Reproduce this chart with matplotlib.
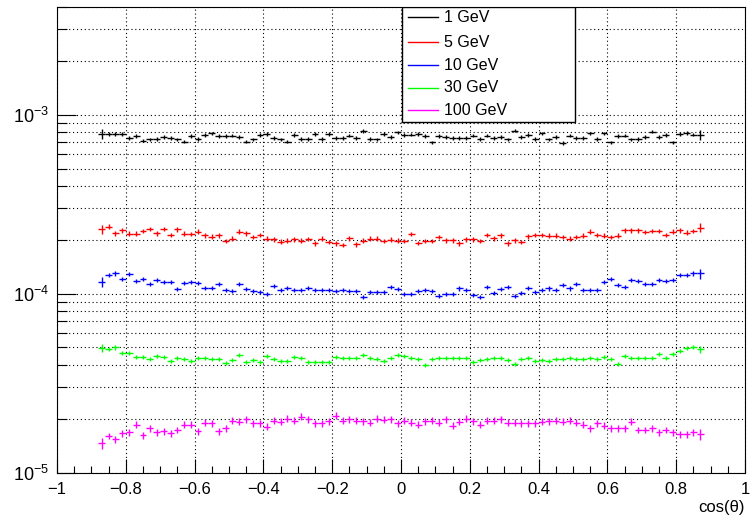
import numpy as np
import matplotlib
matplotlib.use('Agg')
import matplotlib.pyplot as plt
from matplotlib.ticker import (MultipleLocator, LogLocator, NullFormatter,
                               LogFormatterMathtext, FuncFormatter)
from matplotlib.lines import Line2D
from matplotlib.patches import Rectangle

plt.rcParams['font.family'] = 'Liberation Sans'
plt.rcParams['mathtext.fontset'] = 'custom'
plt.rcParams['mathtext.rm'] = 'Liberation Sans'
plt.rcParams['mathtext.it'] = 'Liberation Sans:italic'

# cos(theta) binning: 88 bins of 0.02
bin_edges = np.linspace(-0.88, 0.88, 89)

gev1 = np.array([
    7.82, 7.82, 7.82, 7.82, 7.43, 7.59, 7.17, 7.27, 7.33, 7.49,
    7.40, 7.27, 7.07, 7.59, 7.33, 7.72, 7.88, 7.59, 7.59, 7.65,
    7.49, 7.07, 7.27, 7.72, 7.82, 7.43, 7.27, 7.07, 7.72, 7.33,
    7.33, 7.82, 7.33, 7.82, 7.43, 7.43, 7.65, 7.43, 8.10, 7.33,
    7.27, 7.82, 7.49, 7.98, 7.72, 7.75, 7.82, 7.59, 7.01, 7.59,
    7.49, 7.43, 7.43, 7.43, 7.65, 7.33, 7.65, 7.43, 7.49, 7.27,
    8.16, 7.49, 7.72, 7.33, 7.88, 7.27, 7.49, 6.95, 7.65, 7.43,
    7.43, 7.88, 7.33, 7.88, 7.01, 7.59, 7.65, 7.27, 7.33, 7.49,
    8.05, 7.49, 7.72, 7.01, 7.82, 7.92, 7.75, 7.75]) * 1e-4

gev5 = np.array([
    2.29, 2.37, 2.17, 2.26, 2.16, 2.16, 2.24, 2.30, 2.17, 2.30,
    2.13, 2.29, 2.16, 2.15, 2.22, 2.12, 2.08, 2.12, 1.97, 2.03,
    2.22, 2.17, 2.07, 2.13, 2.03, 2.01, 1.95, 1.98, 2.01, 1.98,
    2.02, 1.91, 2.03, 1.94, 1.91, 1.87, 2.04, 1.89, 1.98, 2.03,
    2.03, 1.97, 2.00, 1.98, 1.97, 2.15, 1.92, 1.97, 1.97, 2.07,
    1.99, 1.99, 1.91, 2.01, 2.01, 1.97, 2.13, 2.04, 2.12, 1.91,
    1.99, 1.94, 2.09, 2.13, 2.13, 2.11, 2.11, 2.07, 2.03, 2.07,
    2.11, 2.22, 2.13, 2.11, 2.07, 2.11, 2.26, 2.26, 2.26, 2.21,
    2.24, 2.24, 2.13, 2.22, 2.26, 2.19, 2.24, 2.34]) * 1e-4

gev10 = np.array([
    1.158, 1.267, 1.296, 1.209, 1.290, 1.173, 1.214, 1.134, 1.190, 1.158,
    1.158, 1.063, 1.148, 1.158, 1.148, 1.076, 1.076, 1.134, 1.053, 1.030,
    1.134, 1.063, 1.039, 1.022, 1.000, 1.109, 1.053, 1.076, 1.053, 1.053,
    1.076, 1.043, 1.053, 1.053, 1.039, 1.053, 1.039, 1.039, 0.960, 1.022,
    1.022, 1.022, 1.089, 1.063, 1.000, 1.000, 1.039, 1.053, 1.030, 0.975,
    1.000, 1.000, 1.068, 1.043, 0.987, 0.953, 1.086, 1.009, 1.063, 1.086,
    0.965, 1.009, 1.076, 1.017, 1.053, 1.068, 1.053, 1.124, 1.068, 1.138,
    1.053, 1.053, 1.053, 1.158, 1.214, 1.124, 1.089, 1.199, 1.173, 1.138,
    1.138, 1.199, 1.173, 1.199, 1.267, 1.267, 1.296, 1.296]) * 1e-4

gev30 = np.array([
    4.95, 4.88, 5.00, 4.68, 4.68, 4.44, 4.44, 4.30, 4.48, 4.44,
    4.20, 4.39, 4.33, 4.20, 4.35, 4.39, 4.30, 4.30, 4.08, 4.25,
    4.54, 4.16, 4.25, 4.14, 4.48, 4.33, 4.20, 4.20, 4.44, 4.39,
    4.16, 4.16, 4.16, 4.16, 4.43, 4.35, 4.35, 4.35, 4.54, 4.39,
    4.30, 4.20, 4.39, 4.52, 4.48, 4.35, 4.30, 4.00, 4.30, 4.35,
    4.35, 4.35, 4.35, 4.35, 4.14, 4.25, 4.30, 4.35, 4.35, 4.23,
    4.06, 4.30, 4.39, 4.20, 4.25, 4.20, 4.33, 4.30, 4.35, 4.30,
    4.33, 4.39, 4.30, 4.43, 4.30, 4.06, 4.48, 4.35, 4.39, 4.39,
    4.35, 4.61, 4.35, 4.61, 4.78, 4.95, 5.06, 4.88]) * 1e-5

gev100 = np.array([
    1.46, 1.60, 1.53, 1.66, 1.68, 1.85, 1.61, 1.77, 1.68, 1.70,
    1.66, 1.73, 1.85, 1.85, 1.70, 1.90, 1.88, 1.70, 1.77, 1.95,
    1.92, 1.98, 1.88, 1.88, 1.80, 1.95, 1.92, 2.00, 1.95, 2.05,
    1.98, 1.88, 1.88, 1.93, 2.08, 1.95, 1.98, 1.95, 1.93, 1.90,
    2.00, 1.97, 1.98, 1.88, 1.95, 1.90, 1.85, 1.93, 1.95, 1.90,
    1.98, 1.83, 1.92, 2.00, 1.93, 1.85, 1.95, 1.95, 1.98, 1.90,
    1.90, 1.88, 1.88, 1.88, 1.92, 1.93, 1.95, 1.92, 1.95, 1.90,
    1.85, 1.77, 1.88, 1.83, 1.77, 1.77, 1.77, 1.92, 1.73, 1.73,
    1.77, 1.68, 1.73, 1.68, 1.64, 1.64, 1.68, 1.64]) * 1e-5

labels = ['1 GeV', '5 GeV', '10 GeV', '30 GeV', '100 GeV']
colors = ['#000000', '#ff0000', '#0000ff', '#00ff00', '#ff00ff']
series = [gev1, gev5, gev10, gev30, gev100]
# relative stat. errors: inner bins / two outermost bins
rel_err = [0.022, 0.03, 0.026, 0.026, 0.044]
rel_err_edge = [0.065, 0.055, 0.065, 0.05, 0.07]

centers = 0.5 * (bin_edges[:-1] + bin_edges[1:])
half_w = 0.5 * np.diff(bin_edges)


def short_label(v, pos):
    s = '%g' % round(v, 2)
    if s == '-0':
        s = '0'
    return s.replace('-', '\u2212')


fig = plt.figure(figsize=(7.54, 5.15), dpi=100)
ax = fig.add_axes([57 / 754, 42.5 / 515, 688 / 754, 465.5 / 515])

for vals, col, r, re in zip(series, colors, rel_err, rel_err_edge):
    err = vals * r
    err[0] = vals[0] * re
    err[-1] = vals[-1] * re
    ax.errorbar(centers, vals, yerr=err, xerr=half_w, fmt='none',
                ecolor=col, elinewidth=1.0, capsize=0, zorder=3)

ax.set_yscale('log')
ax.set_xlim(-1, 1)
ax.set_ylim(1e-5, 4e-3)

ax.xaxis.set_major_locator(MultipleLocator(0.2))
ax.xaxis.set_minor_locator(MultipleLocator(0.05))
ax.xaxis.set_major_formatter(FuncFormatter(short_label))
ax.yaxis.set_major_locator(LogLocator(base=10))
ax.yaxis.set_minor_locator(LogLocator(base=10, subs=np.arange(2, 10)))
ax.yaxis.set_major_formatter(LogFormatterMathtext())
ax.yaxis.set_minor_formatter(NullFormatter())

ax.tick_params(axis='x', which='major', direction='in', length=10, width=0.8,
               labelsize=12, pad=7)
ax.tick_params(axis='x', which='minor', direction='in', length=5, width=0.8)
ax.tick_params(axis='y', which='major', direction='in', length=14, width=0.8,
               labelsize=13, pad=6)
ax.tick_params(axis='y', which='minor', direction='in', length=7, width=0.8)

grid_style = dict(color='black', linestyle=(0, (1, 2.5)), linewidth=0.8)
ax.grid(True, axis='x', which='major', **grid_style)
ax.grid(True, axis='y', which='both', **grid_style)
ax.set_axisbelow(True)

for sp in ax.spines.values():
    sp.set_linewidth(0.8)

ax.text(1.0, -0.076, 'cos(\u03b8)', transform=ax.transAxes,
        ha='right', va='center', fontsize=12)

# legend box
leg_x0, leg_x1 = 0.5015, 0.7529
leg_y0, leg_y1 = 0.753, 1.0
ax.add_patch(Rectangle((leg_x0, leg_y0), leg_x1 - leg_x0, leg_y1 - leg_y0,
                       transform=ax.transAxes, facecolor='white',
                       edgecolor='black', linewidth=1.0, zorder=5))
row_y = [0.9785, 0.9248, 0.8754, 0.8260, 0.7787]
for lab, col, yy in zip(labels, colors, row_y):
    ax.add_line(Line2D([0.5102, 0.5538], [yy, yy], transform=ax.transAxes,
                       color=col, linewidth=1.0, zorder=6))
    ax.text(0.5625, yy, lab, transform=ax.transAxes, ha='left',
            va='center', fontsize=11.5, zorder=6)

fig.savefig('out.png', dpi=100)
